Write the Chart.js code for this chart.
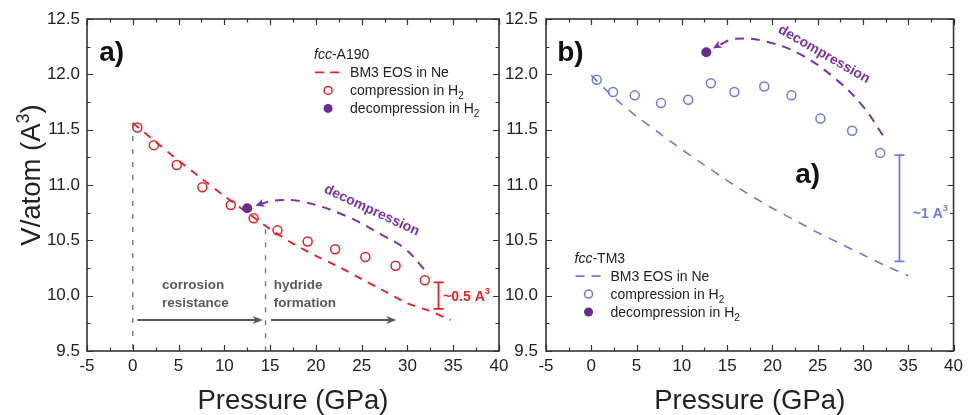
<!DOCTYPE html>
<html>
<head>
<meta charset="utf-8">
<script src="https://cdn.jsdelivr.net/npm/chart.js@4.4.0/dist/chart.umd.min.js"></script>
<style>
  html, body { margin: 0; padding: 0; background: #fff; }
  #wrap { position: relative; width: 968px; height: 415px; overflow: hidden; }
  #chartA { position: absolute; left: 0; top: 0; }
  #chartB { position: absolute; left: 500px; top: 0; }
</style>
</head>
<body>
<div id="wrap">
  <canvas id="chartA" width="520" height="415" style="width:520px;height:415px"></canvas>
  <canvas id="chartB" width="468" height="415" style="width:468px;height:415px"></canvas>
</div>
<script>
// axes shared by both panels
const pressureRange = [-5, 40];
const pressureStep = 5;
const volumeRange = [9.5, 12.5];
const volumeStep = 0.5;

// panel a) fcc-A190
const a190EosP = [0, 2.5, 5, 7.5, 10, 12.5, 15, 17.5, 20, 22.5, 25, 27.5, 30, 32.5, 34.7];
const a190EosV = [11.56, 11.39, 11.22, 11.06, 10.90, 10.75, 10.60, 10.47, 10.36, 10.26, 10.15, 10.04, 9.93, 9.86, 9.78];
const a190CompP = [0.5, 2.3, 4.8, 7.6, 10.7, 13.2, 15.8, 19.1, 22.1, 25.4, 28.7, 31.9];
const a190CompV = [11.52, 11.36, 11.18, 10.98, 10.82, 10.70, 10.59, 10.49, 10.42, 10.35, 10.27, 10.14];
const a190DecP = [12.5];
const a190DecV = [10.79];
const a190PathP = [31.8, 29.8, 27.2, 23.3, 18.5, 15.5, 14.0];
const a190PathV = [10.24, 10.42, 10.55, 10.72, 10.85, 10.86, 10.83];
const a190BoundP = [0, 14.5];
const a190BoundTopV = [11.56, 10.60];
const a190RegionArrowsP = [[0.5, 14.2], [15.1, 28.8]];
const a190RegionArrowV = 9.78;
const a190RegionText = [['corrosion', 'resistance'], ['hydride', 'formation']];
const a190RegionTextP = [3.2, 15.4];
const a190GapP = 33.3;
const a190GapV = [10.12, 9.88];

// panel b) fcc-TM3
const tm3EosP = [0, 2.5, 5, 7.5, 10, 12.5, 15, 17.5, 20, 22.5, 25, 27.5, 30, 32.5, 35];
const tm3EosV = [11.99, 11.79, 11.62, 11.47, 11.32, 11.18, 11.04, 10.91, 10.79, 10.68, 10.57, 10.47, 10.37, 10.27, 10.18];
const tm3CompP = [0.6, 2.4, 4.8, 7.7, 10.7, 13.2, 15.8, 19.1, 22.1, 25.3, 28.8, 31.9];
const tm3CompV = [11.95, 11.84, 11.81, 11.74, 11.77, 11.92, 11.84, 11.89, 11.81, 11.60, 11.49, 11.29];
const tm3DecP = [12.7];
const tm3DecV = [12.20];
const tm3PathP = [32.2, 30.0, 27.1, 23.1, 19.1, 15.8, 14.0];
const tm3PathV = [11.45, 11.71, 11.95, 12.18, 12.30, 12.32, 12.26];
const tm3GapP = 34.0;
const tm3GapV = [11.27, 10.31];

const FONT = '"Liberation Sans", Arial, Helvetica, sans-serif';
const RED = '#ea2227';
const BLUE = '#6b7dd6';
const PURPLE = '#6a2b93';
const PURPLE_LINE = '#7d33a8';
const GRAY = '#5a5a5a';
const INK = '#222';

const xy = (xs, ys) => xs.map((x, i) => ({ x: x, y: ys[i] }));
const f = (size, style) => (style ? style + ' ' : '') + size + 'px ' + FONT;

// ---------- drawing helpers ----------
const richWidth = (ctx, parts) => parts.reduce((w, p) => { ctx.font = p.font; return w + ctx.measureText(p.text).width; }, 0);

const drawRich = (ctx, x, y, parts, align) => {
  let cx = align === 'center' ? x - richWidth(ctx, parts) / 2 : x;
  ctx.textAlign = 'left';
  ctx.textBaseline = 'alphabetic';
  parts.forEach(p => {
    ctx.font = p.font;
    ctx.fillStyle = p.color || INK;
    ctx.fillText(p.text, cx, y + (p.dy || 0));
    cx += ctx.measureText(p.text).width;
  });
};

const arrowHead = (ctx, x, y, ang, len, half, color) => {
  ctx.save();
  ctx.translate(x, y);
  ctx.rotate(ang);
  ctx.beginPath();
  ctx.moveTo(0, 0);
  ctx.lineTo(-len, -half);
  ctx.lineTo(-len * 0.75, 0);
  ctx.lineTo(-len, half);
  ctx.closePath();
  ctx.fillStyle = color;
  ctx.fill();
  ctx.restore();
};

const drawFrame = (chart) => {
  const { ctx, chartArea: a, scales } = chart;
  ctx.save();
  ctx.strokeStyle = '#333';
  ctx.lineWidth = 1.2;
  const xv = scales.x.ticks.map(t => t.value);
  const yv = scales.y.ticks.map(t => t.value);
  const mids = v => v.slice(1).map((t, i) => (t + v[i]) / 2);
  ctx.beginPath();
  [[xv, 6], [mids(xv), 3.5]].forEach(([vals, len]) => vals.forEach(v => {
    const p = Math.round(scales.x.getPixelForValue(v)) + 0.5;
    ctx.moveTo(p, a.bottom); ctx.lineTo(p, a.bottom - len);
    ctx.moveTo(p, a.top); ctx.lineTo(p, a.top + len);
  }));
  [[yv, 6], [mids(yv), 3.5]].forEach(([vals, len]) => vals.forEach(v => {
    const p = Math.round(scales.y.getPixelForValue(v)) + 0.5;
    ctx.moveTo(a.left, p); ctx.lineTo(a.left + len, p);
    ctx.moveTo(a.right, p); ctx.lineTo(a.right - len, p);
  }));
  ctx.stroke();
  ctx.lineWidth = 1.6;
  ctx.strokeRect(a.left, a.top, a.right - a.left, a.bottom - a.top);
  ctx.restore();
};

const drawAxisTitles = (chart, withY) => {
  const { ctx, chartArea: a } = chart;
  ctx.save();
  drawRich(ctx, (a.left + a.right) / 2, 409, [{ text: 'Pressure (GPa)', font: f(27.5) }], 'center');
  if (withY) {
    ctx.translate(40, 175);
    ctx.rotate(-Math.PI / 2);
    drawRich(ctx, 0, 0, [
      { text: 'V/atom (A', font: f(27.5) },
      { text: '3', font: f(18), dy: -11 },
      { text: ')', font: f(27.5) }
    ], 'center');
  }
  ctx.restore();
};

const drawPanelLabel = (chart, text, p, v) => {
  const { ctx, scales } = chart;
  ctx.save();
  ctx.font = f(28, 'bold');
  ctx.fillStyle = '#111';
  ctx.textAlign = 'center';
  ctx.textBaseline = 'middle';
  ctx.fillText(text, scales.x.getPixelForValue(p), scales.y.getPixelForValue(v));
  ctx.restore();
};

const drawLegend = (chart, p, v, name, color, dashed) => {
  const { ctx, scales } = chart;
  const x = scales.x.getPixelForValue(p);
  const y = scales.y.getPixelForValue(v);
  const step = 18;
  ctx.save();
  drawRich(ctx, x, y + 5, [{ text: 'fcc', font: f(14, 'italic') }, { text: '-' + name, font: f(14) }]);
  // dashed line sample
  ctx.strokeStyle = color;
  ctx.lineWidth = 1.8;
  ctx.setLineDash(dashed);
  ctx.beginPath();
  ctx.moveTo(x + 1, y + step);
  ctx.lineTo(x + 26, y + step);
  ctx.stroke();
  ctx.setLineDash([]);
  // open circle
  ctx.lineWidth = 1.5;
  ctx.beginPath();
  ctx.arc(x + 14, y + 2 * step, 4, 0, Math.PI * 2);
  ctx.stroke();
  // filled circle
  ctx.fillStyle = PURPLE;
  ctx.beginPath();
  ctx.arc(x + 14, y + 3 * step, 4.5, 0, Math.PI * 2);
  ctx.fill();
  const tx = x + 36;
  drawRich(ctx, tx, y + step + 5, [{ text: 'BM3 EOS in Ne', font: f(14) }]);
  drawRich(ctx, tx, y + 2 * step + 5, [{ text: 'compression in H', font: f(14) }, { text: '2', font: f(10), dy: 4 }]);
  drawRich(ctx, tx, y + 3 * step + 5, [{ text: 'decompression in H', font: f(14) }, { text: '2', font: f(10), dy: 4 }]);
  ctx.restore();
};

const drawGapBar = (chart, p, vs, color, label, lp, lv) => {
  const { ctx, scales } = chart;
  const x = Math.round(scales.x.getPixelForValue(p)) + 0.5;
  const y1 = scales.y.getPixelForValue(vs[0]);
  const y2 = scales.y.getPixelForValue(vs[1]);
  ctx.save();
  ctx.strokeStyle = color;
  ctx.lineWidth = 1.8;
  ctx.beginPath();
  ctx.moveTo(x, y1); ctx.lineTo(x, y2);
  ctx.moveTo(x - 5, y1); ctx.lineTo(x + 5, y1);
  ctx.moveTo(x - 5, y2); ctx.lineTo(x + 5, y2);
  ctx.stroke();
  drawRich(ctx, scales.x.getPixelForValue(lp), scales.y.getPixelForValue(lv) + 5, [
    { text: label, font: f(14, 'bold'), color: color },
    { text: '3', font: f(9, 'bold'), color: color, dy: -7 }
  ]);
  ctx.restore();
};

const drawPathDecor = (chart, pathP, pathV, decP, decV, tp, tv, angle) => {
  const { ctx, scales } = chart;
  const n = pathP.length - 1;
  const ex = scales.x.getPixelForValue(pathP[n]);
  const ey = scales.y.getPixelForValue(pathV[n]);
  const dx = scales.x.getPixelForValue(decP[0]) - ex;
  const dy = scales.y.getPixelForValue(decV[0]) - ey;
  const ang = Math.atan2(dy, dx);
  ctx.save();
  arrowHead(ctx, ex + Math.cos(ang) * 6, ey + Math.sin(ang) * 6, ang, 9, 4, PURPLE_LINE);
  ctx.translate(scales.x.getPixelForValue(tp), scales.y.getPixelForValue(tv));
  ctx.rotate(angle * Math.PI / 180);
  ctx.font = f(14, 'bold');
  ctx.fillStyle = PURPLE_LINE;
  ctx.textAlign = 'center';
  ctx.textBaseline = 'middle';
  ctx.fillText('decompression', 0, 0);
  ctx.restore();
};

const drawRegions = (chart) => {
  const { ctx, scales } = chart;
  const y = scales.y.getPixelForValue(a190RegionArrowV);
  ctx.save();
  ctx.strokeStyle = GRAY;
  ctx.lineWidth = 1.8;
  a190RegionArrowsP.forEach(([p0, p1]) => {
    const x0 = scales.x.getPixelForValue(p0);
    const x1 = scales.x.getPixelForValue(p1);
    ctx.beginPath();
    ctx.moveTo(x0, y); ctx.lineTo(x1 - 6, y);
    ctx.stroke();
    arrowHead(ctx, x1, y, 0, 10, 4, GRAY);
  });
  a190RegionText.forEach((lines, i) => {
    const x = scales.x.getPixelForValue(a190RegionTextP[i]);
    lines.forEach((t, j) => {
      ctx.font = f(13.5, 'bold');
      ctx.fillStyle = GRAY;
      ctx.textAlign = 'left';
      ctx.textBaseline = 'middle';
      ctx.fillText(t, x, scales.y.getPixelForValue(10.09) + j * 18);
    });
  });
  ctx.restore();
};

// ---------- chart configs ----------
const scaleOptions = (yWidth, yPad) => ({
  x: {
    type: 'linear', min: pressureRange[0], max: pressureRange[1],
    grid: { display: false, drawTicks: false }, border: { display: false },
    ticks: { stepSize: pressureStep, autoSkip: false, maxRotation: 0, padding: 5, color: INK,
      font: { family: FONT, size: 17 }, callback: v => String(v) },
    afterFit: s => { s.height = 64; }
  },
  y: {
    type: 'linear', min: volumeRange[0], max: volumeRange[1],
    grid: { display: false, drawTicks: false }, border: { display: false },
    ticks: { stepSize: volumeStep, padding: yPad, color: INK,
      font: { family: FONT, size: 17 }, callback: v => v.toFixed(1) },
    afterFit: s => { s.width = yWidth; }
  }
});

const commonOptions = (padRight, yWidth, yPad) => ({
  responsive: false,
  animation: false,
  events: [],
  layout: { padding: { left: 0, right: padRight, top: 19, bottom: 0 } },
  plugins: { legend: { display: false }, tooltip: { enabled: false } },
  scales: scaleOptions(yWidth, yPad)
});

const eosSet = (data, color, dash, width) => ({
  data: data, showLine: true, borderColor: color, borderWidth: width, borderDash: dash,
  pointRadius: 0, fill: false, tension: 0.15
});
const openSet = (data, color) => ({
  data: data, showLine: false, pointRadius: 4.5, pointBorderWidth: 1.5,
  pointBorderColor: color, pointBackgroundColor: 'rgba(0,0,0,0)', borderColor: color
});
const filledSet = (data) => ({
  data: data, showLine: false, pointRadius: 5, pointBorderWidth: 0,
  pointBackgroundColor: PURPLE, pointBorderColor: PURPLE
});
const pathSet = (data) => ({
  data: data, showLine: true, borderColor: PURPLE_LINE, borderWidth: 2, borderDash: [9, 7],
  pointRadius: 0, tension: 0.4
});

const chartA = new Chart(document.getElementById('chartA'), {
  type: 'scatter',
  data: {
    datasets: [
      filledSet(xy(a190DecP, a190DecV)),
      openSet(xy(a190CompP, a190CompV), RED),
      eosSet(xy(a190EosP, a190EosV), RED, [8, 7], 1.9),
      pathSet(xy(a190PathP, a190PathV)),
      ...a190BoundP.map((p, i) => ({
        data: [{ x: p, y: a190BoundTopV[i] }, { x: p, y: volumeRange[0] }],
        showLine: true, borderColor: '#777', borderWidth: 1.4, borderDash: [5, 8], pointRadius: 0
      }))
    ]
  },
  options: commonOptions(21, 87, 7),
  plugins: [{
    id: 'decorA',
    afterDraw: chart => {
      drawFrame(chart);
      drawAxisTitles(chart, true);
      drawPanelLabel(chart, 'a)', -2.3, 12.19);
      drawLegend(chart, 19.8, 12.18, 'A190', RED, [9, 6]);
      drawRegions(chart);
      drawGapBar(chart, a190GapP, a190GapV, RED, '~0.5 A', 33.9, 10.0);
      drawPathDecor(chart, a190PathP, a190PathV, a190DecP, a190DecV, 26.1, 10.77, 25);
    }
  }]
});

const chartB = new Chart(document.getElementById('chartB'), {
  type: 'scatter',
  data: {
    datasets: [
      filledSet(xy(tm3DecP, tm3DecV)),
      openSet(xy(tm3CompP, tm3CompV), BLUE),
      eosSet(xy(tm3EosP, tm3EosV), BLUE, [9, 8], 1.6),
      pathSet(xy(tm3PathP, tm3PathV))
    ]
  },
  options: commonOptions(11, 46, 8),
  plugins: [{
    id: 'decorB',
    afterDraw: chart => {
      drawFrame(chart);
      drawAxisTitles(chart, false);
      drawPanelLabel(chart, 'b)', -2.3, 12.19);
      drawPanelLabel(chart, 'a)', 23.9, 11.09);
      drawLegend(chart, -1.85, 10.34, 'TM3', BLUE, [9, 7]);
      drawGapBar(chart, tm3GapP, tm3GapV, BLUE, '~1 A', 35.5, 10.75);
      drawPathDecor(chart, tm3PathP, tm3PathV, tm3DecP, tm3DecV, 25.7, 12.18, 30);
    }
  }]
});
</script>
</body>
</html>
